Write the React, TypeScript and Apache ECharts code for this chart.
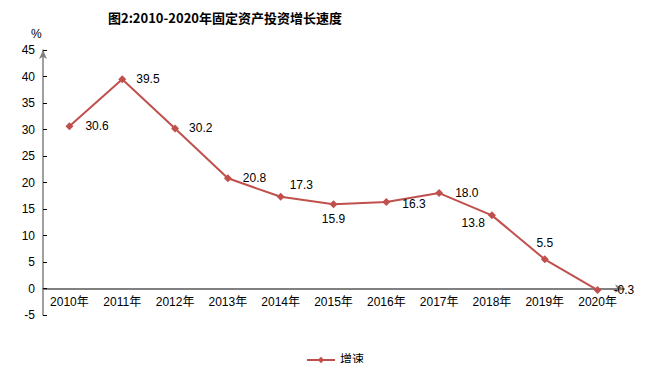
import React, { useEffect, useRef } from "react";
import * as echarts from "echarts";

const categories = ["2010年", "2011年", "2012年", "2013年", "2014年", "2015年", "2016年", "2017年", "2018年", "2019年", "2020年"];
const growth = [30.6, 39.5, 30.2, 20.8, 17.3, 15.9, 16.3, 18.0, 13.8, 5.5, -0.3];
const yTicks = { min: -5, max: 45, interval: 5 };
const labelPlacement: any[] = [
  { position: "right", distance: 12 },
  { position: "right", distance: 10 },
  { position: "right", distance: 10 },
  { position: "right", distance: 11 },
  { position: "right", distance: 5, offset: [0, -12] },
  { position: "bottom", distance: 5 },
  { position: "right", distance: 12, offset: [0, 2] },
  { position: "right", distance: 12 },
  { position: "left", distance: 3, offset: [0, 8] },
  { position: "top", distance: 6 },
  { position: "right", distance: 12 },
];

export default function App() {
  const ref = useRef<HTMLDivElement>(null);
  useEffect(() => {
    const chart = echarts.init(ref.current!, null, { renderer: "svg" });
    const font = "'Liberation Sans', Arial, 'Noto Sans CJK SC', sans-serif";
    chart.setOption({
      animation: false,
      backgroundColor: "#fff",
      title: {
        text: "图2:2010-2020年固定资产投资增长速度",
        left: 220,
        textAlign: "center",
        top: 6,
        textStyle: { fontSize: 13, fontWeight: "bold", color: "#000", fontFamily: "'Noto Sans CJK SC', sans-serif" },
      },
      graphic: [
        { type: "text", left: 31, top: 28, style: { text: "%", fontSize: 12, fill: "#000", font: "12px " + font } },
      ],
      legend: {
        bottom: 0,
        left: "center",
        itemWidth: 28,
        itemHeight: 8,
        textStyle: { fontSize: 12, color: "#000", fontFamily: font },
        data: ["增速"],
      },
      grid: { left: 43, right: 46, top: 50, bottom: 56, containLabel: false },
      xAxis: {
        type: "category",
        data: categories,
        boundaryGap: true,
        axisLine: { onZero: true, lineStyle: { color: "#808080", width: 2 }, symbol: ["none", "arrow"], symbolSize: [6, 9] },
        axisTick: { show: false },
        axisLabel: { color: "#000", fontSize: 12, fontFamily: font, margin: -19, interval: 0 },
      },
      yAxis: {
        type: "value",
        min: yTicks.min,
        max: yTicks.max,
        interval: yTicks.interval,
        splitLine: { show: false },
        axisLine: { show: true, onZero: false, lineStyle: { color: "#808080", width: 1.5 }, symbol: ["none", "arrow"], symbolSize: [6, 9] },
        axisTick: { show: true, inside: true, length: 4, lineStyle: { color: "#000" } },
        axisLabel: { color: "#000", fontSize: 12, fontFamily: font, margin: 8 },
      },
      series: [
        {
          name: "增速",
          type: "line",
          data: growth.map((v, i) => ({ value: v, label: labelPlacement[i] })),
          symbol: "diamond",
          symbolSize: 8,
          itemStyle: { color: "#C0504D" },
          lineStyle: { color: "#C0504D", width: 2 },
          label: {
            show: true,
            color: "#000",
            fontSize: 12,
            fontFamily: font,
            formatter: (p: any) => p.value.toFixed(1),
          },
        },
      ],
    });
    return () => chart.dispose();
  }, []);
  return <div ref={ref} style={{ width: 670, height: 371, margin: -8 }} />;
}
